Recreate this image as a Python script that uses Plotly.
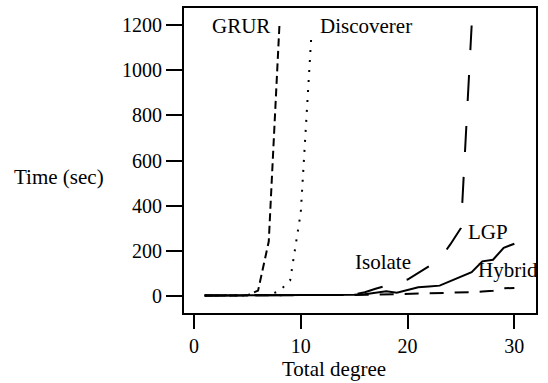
import plotly.graph_objects as go

# ---- data ----
grur_x = [1, 2, 3, 4, 5, 6, 7, 8]
grur_y = [0, 0, 0, 0, 0.5, 22, 240, 1200]

disc_x = [1, 2, 3, 4, 5, 6, 7, 8, 9, 10, 11]
disc_y = [0, 0, 0, 0, 0, 0, 3, 20, 67, 370, 1165]

lgp_x = list(range(1, 27))
lgp_y = [0, 0, 0, 0, 0, 0, 0, 0, 0, 1, 1, 1, 2, 3, 5, 15, 30, 45, 58, 71,
         100, 130, 160, 227, 300, 1200]

iso_x = list(range(1, 31))
iso_y = [0, 0, 0, 0, 0, 0, 0, 0, 0, 1, 1, 1, 2, 2, 3, 6, 12, 19, 13, 25,
         37, 40, 44, 64, 84, 104, 152, 159, 212, 230]

hyb_x = list(range(1, 31))
hyb_y = [0, 0, 0, 0, 0, 0, 0, 0, 0, 0, 1, 1, 1, 1, 2, 3, 4, 5, 7, 8,
         9, 10, 11, 12, 14, 15, 18, 21, 32, 34]

x_ticks = [0, 10, 20, 30]
y_ticks = [0, 200, 400, 600, 800, 1000, 1200]

FONT = "Liberation Serif, DejaVu Serif, serif"
FS = 21

fig = go.Figure()
fig.add_trace(go.Scatter(x=iso_x, y=iso_y, mode="lines", name="Isolate",
                         line=dict(color="black", width=2, dash="solid")))
fig.add_trace(go.Scatter(x=hyb_x, y=hyb_y, mode="lines", name="Hybrid",
                         line=dict(color="black", width=2, dash="14px,11px")))
fig.add_trace(go.Scatter(x=lgp_x, y=lgp_y, mode="lines", name="LGP",
                         line=dict(color="black", width=2, dash="26px,25px")))
fig.add_trace(go.Scatter(x=disc_x, y=disc_y, mode="lines", name="Discoverer",
                         line=dict(color="black", width=2, dash="2px,8px")))
fig.add_trace(go.Scatter(x=grur_x, y=grur_y, mode="lines", name="GRUR",
                         line=dict(color="black", width=2, dash="8px,4.5px")))

labels = [("GRUR", 4.4, 1196), ("Discoverer", 16.1, 1196),
          ("Isolate", 17.7, 150), ("LGP", 27.5, 281), ("Hybrid", 29.4, 114)]
for txt, lx, ly in labels:
    fig.add_annotation(x=lx, y=ly, xref="x", yref="y", text=txt,
                       showarrow=False, xanchor="center", yanchor="middle",
                       font=dict(family=FONT, size=FS, color="black"))

fig.add_annotation(x=-0.349, y=0.445, xref="paper", yref="paper",
                   text="Time (sec)", showarrow=False, xanchor="center",
                   yanchor="middle", font=dict(family=FONT, size=FS, color="black"))
fig.add_annotation(x=0.4257, y=-0.178, xref="paper", yref="paper",
                   text="Total degree", showarrow=False, xanchor="center",
                   yanchor="middle", font=dict(family=FONT, size=FS, color="black"))

fig.add_shape(type="rect", xref="paper", yref="paper", x0=0, x1=1, y0=0, y1=1,
              line=dict(color="black", width=2))

fig.update_layout(
    width=548, height=383,
    margin=dict(l=183, r=11, t=7, b=69, pad=0),
    paper_bgcolor="white", plot_bgcolor="white",
    showlegend=False,
    font=dict(family=FONT, size=FS, color="black"),
    xaxis=dict(range=[-1.03, 32.12], tickvals=x_ticks, ticks="outside",
               ticklen=14, tickwidth=2, tickcolor="black", showgrid=False,
               zeroline=False, showline=False,
               tickfont=dict(family=FONT, size=20, color="black")),
    yaxis=dict(range=[-82, 1282], tickvals=y_ticks, ticks="outside",
               ticklen=16, tickwidth=2, tickcolor="black", showgrid=False,
               zeroline=False, showline=False,
               tickfont=dict(family=FONT, size=20, color="black")),
)

fig.write_html("out.html", config={"displayModeBar": False},
               post_script="document.body.style.margin='0';document.body.style.padding='0';")
